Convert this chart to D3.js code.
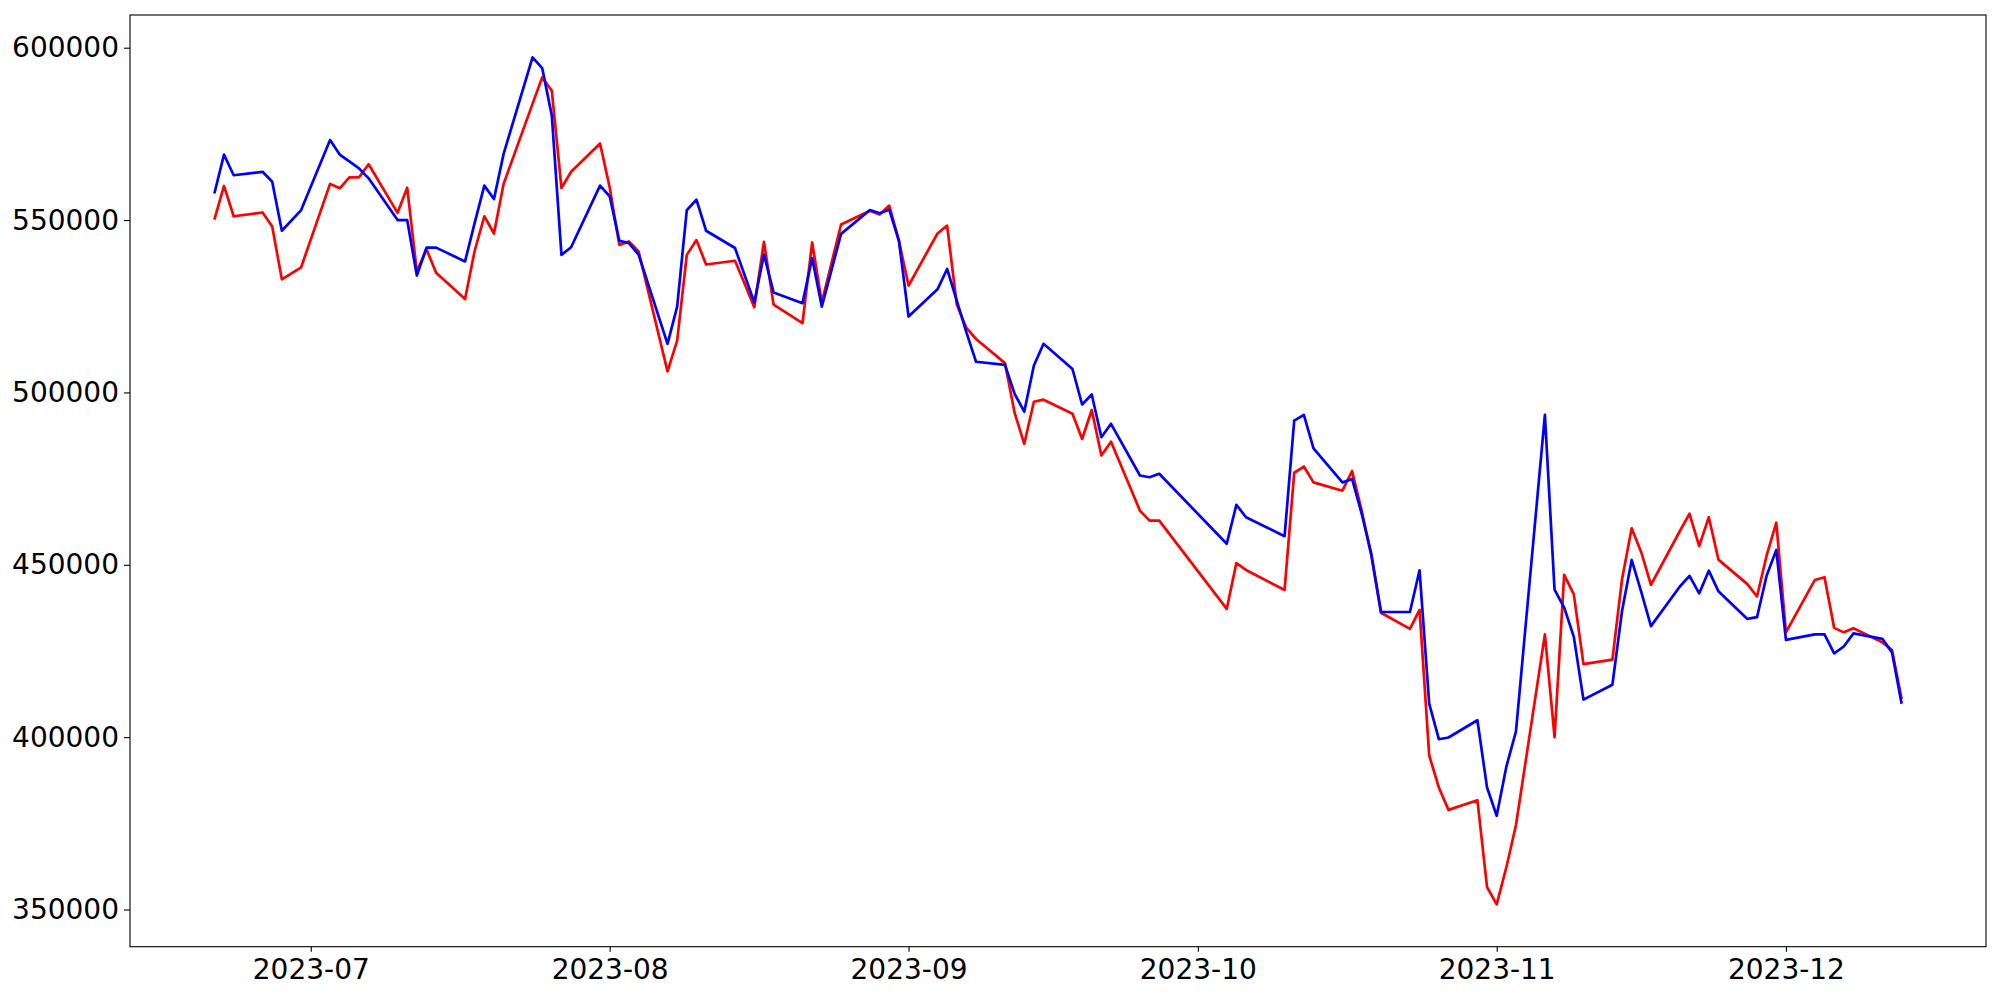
<!DOCTYPE html>
<html>
<head>
<meta charset="utf-8">
<script src="https://cdn.jsdelivr.net/npm/d3@7"></script>
<style>
  html, body { margin: 0; padding: 0; background: #fff; }
  svg { display: block; }
  text { font-family: "DejaVu Sans", sans-serif; }
</style>
</head>
<body>
<svg id="chart" width="2000" height="1000"></svg>
<script>
const dates = [
  "2023-06-21","2023-06-22","2023-06-23","2023-06-26","2023-06-27","2023-06-28","2023-06-30",
  "2023-07-03","2023-07-04","2023-07-05","2023-07-06","2023-07-07","2023-07-10","2023-07-11",
  "2023-07-12","2023-07-13","2023-07-14","2023-07-17","2023-07-18","2023-07-19","2023-07-20",
  "2023-07-21","2023-07-24","2023-07-25","2023-07-26","2023-07-27","2023-07-28","2023-07-31",
  "2023-08-01","2023-08-02","2023-08-03","2023-08-04","2023-08-07","2023-08-08","2023-08-09",
  "2023-08-10","2023-08-11","2023-08-14","2023-08-15","2023-08-16","2023-08-17","2023-08-18",
  "2023-08-21","2023-08-22","2023-08-23","2023-08-24","2023-08-25","2023-08-28","2023-08-29",
  "2023-08-30","2023-08-31","2023-09-01","2023-09-04","2023-09-05","2023-09-06","2023-09-07",
  "2023-09-08","2023-09-11","2023-09-12","2023-09-13","2023-09-14","2023-09-15","2023-09-18",
  "2023-09-19","2023-09-20","2023-09-21","2023-09-22","2023-09-25","2023-09-26","2023-09-27",
  "2023-10-04","2023-10-05","2023-10-06","2023-10-10","2023-10-11","2023-10-12","2023-10-13",
  "2023-10-16","2023-10-17","2023-10-18","2023-10-19","2023-10-20","2023-10-23","2023-10-24",
  "2023-10-25","2023-10-26","2023-10-27","2023-10-30","2023-10-31","2023-11-01","2023-11-02",
  "2023-11-03","2023-11-06","2023-11-07","2023-11-08","2023-11-09","2023-11-10","2023-11-13",
  "2023-11-14","2023-11-15","2023-11-16","2023-11-17","2023-11-20","2023-11-21","2023-11-22",
  "2023-11-23","2023-11-24","2023-11-27","2023-11-28","2023-11-29","2023-11-30","2023-12-01",
  "2023-12-04","2023-12-05","2023-12-06","2023-12-07","2023-12-08","2023-12-11","2023-12-12",
  "2023-12-13"
];

const blueValues = [
  557700,569000,563000,564000,561100,546900,552900,
  573200,569000,567000,565000,562100,550000,550000,
  533900,542000,542000,538000,549200,560000,556100,
  569200,597200,594100,580300,539900,542100,560000,
  556900,544000,543300,540000,514100,524900,552900,
  555900,546900,541900,534000,526100,540000,529000,
  525900,539000,524900,535400,546000,552900,552000,
  553000,544000,522000,529900,535800,526600,517400,
  508900,508000,499600,494400,507800,514100,506800,
  496500,499400,487000,490900,475900,475400,476400,
  456100,467400,463800,458300,491800,493500,483800,
  473900,474900,464800,453100,436300,436300,448400,
  409700,399400,399900,404900,385400,377200,391400,
  401700,493500,442800,437600,429100,410900,415200,
  436600,451400,442100,432200,443700,446800,441700,
  448300,442300,434300,434800,446900,454300,428200,
  429800,429800,424300,426300,430100,428500,424600,
  409700
];

const redValues = [
  550100,559900,551100,552200,548100,532800,536300,
  560500,559200,562400,562400,566200,552100,559400,
  535000,541500,534700,527100,541100,551100,546100,
  560500,583700,591400,587500,559300,564000,572200,
  559500,542800,543800,540900,506100,515000,539900,
  544200,537100,538200,531500,524700,543700,525500,
  520100,543500,526100,537400,548700,552700,551600,
  554200,544000,531000,546100,548400,525500,518700,
  515500,508500,494100,485100,497300,497900,493800,
  486500,494900,481700,485700,465700,462800,462800,
  437200,450500,448500,442700,476700,478500,473900,
  471500,477200,465700,452600,436100,431400,436900,
  394700,385400,378900,381700,356500,351500,362200,
  374500,429800,400000,447100,441400,421200,422500,
  445800,460600,453600,444200,459800,464800,455400,
  463800,451500,444400,440800,452700,462200,430400,
  445600,446400,431700,430400,431600,427500,425300,
  411100
];

const seriesNames = ["red", "blue"];
const seriesColors = ["#ff0000", "#0000ff"];
const yTickValues = [350000, 400000, 450000, 500000, 550000, 600000];
const xTickLabels = ["2023-07", "2023-08", "2023-09", "2023-10", "2023-11", "2023-12"];

(function () {
  const parse = d3.timeParse("%Y-%m-%d");
  const parseMonth = d3.timeParse("%Y-%m");
  const xDates = dates.map(parse);
  const series = [redValues, blueValues];

  const mLeft = 130, mRight = 1986, mTop = 15, mBottom = 946.7;
  const svg = d3.select("#chart");

  // matplotlib-style 5% margins
  const xExt = d3.extent(xDates);
  const xSpan = xExt[1] - xExt[0];
  const allVals = redValues.concat(blueValues);
  const yExt = d3.extent(allVals);
  const ySpan = yExt[1] - yExt[0];

  const x = d3.scaleTime()
    .domain([new Date(+xExt[0] - 0.05 * xSpan), new Date(+xExt[1] + 0.05 * xSpan)])
    .range([mLeft, mRight]);
  const y = d3.scaleLinear()
    .domain([yExt[0] - 0.05 * ySpan, yExt[1] + 0.05 * ySpan])
    .range([mBottom, mTop]);

  const line = d3.line()
    .x((d, i) => x(xDates[i]))
    .y(d => y(d));

  series.forEach((vals, k) => {
    svg.append("path")
      .datum(vals)
      .attr("fill", "none")
      .attr("stroke", seriesColors[k])
      .attr("stroke-width", 2.7)
      .attr("stroke-linejoin", "round")
      .attr("d", line)
      .attr("class", "series-" + seriesNames[k]);
  });

  const xAxis = d3.axisBottom(x)
    .tickValues(xTickLabels.map(parseMonth))
    .tickFormat(d3.timeFormat("%Y-%m"))
    .tickSize(5)
    .tickPadding(7);
  const gx = svg.append("g").attr("transform", `translate(0,${mBottom})`).call(xAxis);

  const yAxis = d3.axisLeft(y)
    .tickValues(yTickValues)
    .tickFormat(d3.format("d"))
    .tickSize(6)
    .tickPadding(5);
  const gy = svg.append("g").attr("transform", `translate(${mLeft},0)`).call(yAxis);

  [gx, gy].forEach(g => {
    g.select(".domain").remove();
    g.selectAll(".tick line").attr("stroke", "#000").attr("stroke-width", 1.1);
    g.selectAll(".tick text")
      .attr("fill", "#000")
      .style("font-family", "'DejaVu Sans', sans-serif")
      .style("font-size", "28px");
  });

  svg.append("rect")
    .attr("x", mLeft).attr("y", mTop)
    .attr("width", mRight - mLeft).attr("height", mBottom - mTop)
    .attr("fill", "none")
    .attr("stroke", "#000")
    .attr("stroke-width", 1.1);
})();
</script>
</body>
</html>
